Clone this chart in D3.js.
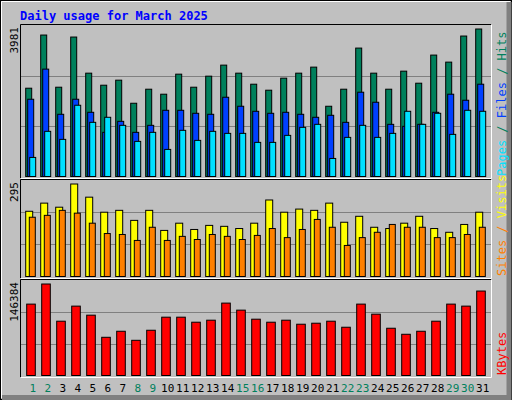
<!DOCTYPE html>
<html><head><meta charset="utf-8">
<script src="https://cdn.jsdelivr.net/npm/d3@7"></script>
<style>body{margin:0;background:#fff}</style>
</head><body>
<script>
var days = d3.range(1, 32);
var weekend = [1, 2, 8, 9, 15, 16, 22, 23, 29, 30];
var hits = [2383,3818,2410,3764,2789,2464,2600,1977,2356,2221,2762,2410,2708,3006,2789,2491,2329,2654,2789,2952,1896,2356,3466,2789,2356,2843,2518,3277,3087,3791,3981];
var files = [2085,2898,1679,2085,1733,1192,1489,1192,1381,1787,1787,1706,1679,2139,1896,1760,1706,1733,1679,1598,1652,1462,2275,2004,1408,1354,1408,1733,2221,2058,2491];
var pages = [515,1219,1002,1923,1462,1598,1381,948,1192,731,1246,975,1219,1164,1164,921,921,1110,1327,1408,487,1056,1381,1056,1164,1760,1408,1706,1137,1787,1760];
var visits = [208,234,221,295,253,205,211,179,211,147,170,150,163,160,153,170,244,205,215,211,234,173,192,157,153,170,192,153,141,166,205];
var sites = [189,195,211,202,170,137,134,115,157,115,128,118,134,128,118,131,153,124,150,182,157,99,124,141,166,157,157,124,124,134,157];
var kbytes = [114211,146384,86864,110993,96516,61127,70778,56301,72387,93299,93299,85256,88473,115819,104559,90082,85256,88473,82039,83647,86864,77213,114211,98125,75604,65953,70778,86864,114211,110993,135122];

var W = 512, H = 400;
var svg = d3.select("body").append("svg").attr("width", W).attr("height", H)
    .style("font-family", "'DejaVu Sans Mono', monospace");

// frame
svg.append("rect").attr("width", W).attr("height", H).attr("fill", "#c0c0c0");
svg.append("rect").attr("x", 0.5).attr("y", 0.5).attr("width", W - 1).attr("height", H - 1).attr("fill", "none").attr("stroke", "#000");
svg.append("path").attr("d", "M1.5,398V1.5H510").attr("fill", "none").attr("stroke", "#fff");
svg.append("path").attr("d", "M509,2V397.5H2").attr("fill", "none").attr("stroke", "#808080").attr("stroke-width", 5);

svg.append("text").attr("x", 20).attr("y", 20).text("Daily usage for March 2025")
    .attr("fill", "#0000ff").attr("font-size", 12).attr("font-weight", "bold");

var x = d3.scalePoint().domain(days).range([25.7, 475.7]);

var panels = [
  {top: 25, bottom: 178, max: 3981, label: "3981",
   series: [{v: hits, c: "#00805c", dx: 0, w: 7}, {v: files, c: "#0040ff", dx: 2, w: 7}, {v: pages, c: "#00e0ff", dx: 4, w: 7}],
   legend: [["Pages", "#00e0ff"], [" / ", "#00805c"], ["Files", "#0040ff"], [" / ", "#00805c"], ["Hits", "#00805c"]]},
  {top: 180, bottom: 278, max: 295, label: "295",
   series: [{v: visits, c: "#ffff00", dx: 0, w: 8}, {v: sites, c: "#ff8000", dx: 3.6, w: 7}],
   legend: [["Sites", "#ff8000"], [" / ", "#ff8000"], ["Visits", "#ffff00"]]},
  {top: 280, bottom: 377, max: 146384, label: "146384",
   series: [{v: kbytes, c: "#ff0000", dx: 1, w: 9.6}],
   legend: [["KBytes", "#ff0000"]]}
];

panels.forEach(function(p) {
  var g = svg.append("g");
  var base = p.bottom - 1.5;
  var y = d3.scaleLinear().domain([0, p.max]).range([base, p.top + 4]);
  g.append("rect").attr("x", 21).attr("y", p.top).attr("width", 470).attr("height", p.bottom - p.top)
      .attr("fill", "#c0c0c0");
  [1 / 3, 2 / 3].forEach(function(f) {
    var yy = Math.round(base - f * (base - p.top)) + 0.5;
    g.append("line").attr("x1", 21).attr("x2", 491).attr("y1", yy).attr("y2", yy).attr("stroke", "#808080");
  });
  p.series.forEach(function(s) {
    g.selectAll(null).data(s.v).enter().append("rect")
      .attr("x", function(d, i) { return x(days[i]) + s.dx; })
      .attr("y", function(d) { return y(d); })
      .attr("width", s.w - 1)
      .attr("height", function(d) { return base - y(d); })
      .attr("fill", s.c).attr("stroke", "#000").attr("stroke-width", 1);
  });
  g.append("path").attr("d", "M20.5," + p.bottom + "V" + (p.top - 0.5) + "H491")
      .attr("fill", "none").attr("stroke", "#000");
  g.append("path").attr("d", "M491.5," + p.top + "V" + (p.bottom + 0.5) + "H21")
      .attr("fill", "none").attr("stroke", "#fff");
  g.append("text").attr("transform", "translate(18," + (p.top + 2) + ") rotate(-90)")
      .attr("text-anchor", "end").attr("font-size", 11).attr("fill", "#000").text(p.label);
  var t = g.append("text").attr("transform", "translate(506," + (p.bottom - 2) + ") rotate(-90)")
      .attr("font-size", 12);
  p.legend.forEach(function(l) { t.append("tspan").attr("fill", l[1]).text(l[0]); });
});

svg.selectAll(".day").data(days).enter().append("text")
  .attr("x", function(d) { return x(d) + 7; })
  .attr("y", 392).attr("text-anchor", "middle").attr("font-size", 11)
  .attr("fill", function(d) { return weekend.indexOf(d) >= 0 ? "#00805c" : "#000"; })
  .text(function(d) { return d; });
</script>
</body></html>
